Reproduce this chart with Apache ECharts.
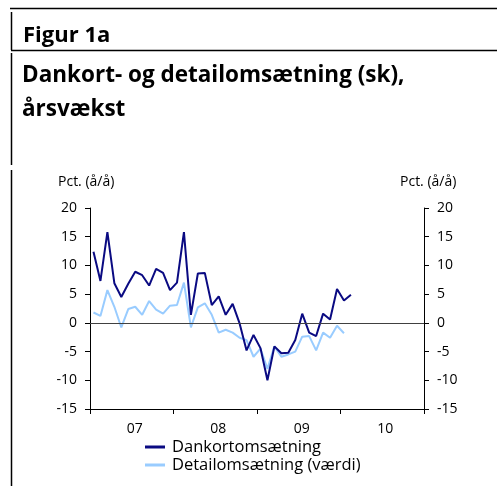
<!DOCTYPE html>
<html>
<head>
<meta charset="utf-8">
<script src="https://cdn.jsdelivr.net/npm/echarts@6/dist/echarts.min.js"></script>
<style>
html, body { margin: 0; padding: 0; background: #fff; }
#chart { width: 497px; height: 486px; }
</style>
</head>
<body>
<div id="chart"></div>
<script>
// månedlig årsvækst, jan 2007 - feb 2010
var years = ['07', '08', '09', '10'];
var dankort = [12.4, 7.3, 15.8, 6.9, 4.5, 6.8, 8.9, 8.3, 6.5, 9.4, 8.7, 5.7,
               7.0, 15.8, 1.4, 8.6, 8.7, 3.1, 4.6, 1.4, 3.3, -0.1, -4.8, -2.1,
               -4.4, -10.0, -4.1, -5.3, -5.2, -3.0, 1.6, -1.7, -2.3, 1.6, 0.6, 5.9,
               3.9, 4.9];
var detail = [1.8, 1.2, 5.7, 2.8, -0.8, 2.4, 2.8, 1.4, 3.8, 2.3, 1.6, 3.0,
              3.1, 7.0, -0.8, 2.7, 3.4, 1.4, -1.7, -1.2, -1.7, -2.6, -3.0, -5.9,
              -4.5, -8.0, -4.1, -5.9, -5.5, -5.0, -2.4, -2.3, -4.8, -1.7, -2.6, -0.5,
              -1.8];
var yTicks = [-15, -10, -5, 0, 5, 10, 15, 20];

function toPoints(arr) {      // maaned nr. i -> midt i maaneden
    var res = [];
    for (var i = 0; i < arr.length; i++) {
        res.push([i + 0.5, arr[i]]);
    }
    return res;
}

var myChart = echarts.init(document.getElementById('chart'));
var font = 'Open Sans';
var yAxisBase = {
    type: 'value',
    min: yTicks[0],
    max: yTicks[yTicks.length - 1],
    interval: 5,
    splitLine: { show: false },
    axisLine: { show: true, lineStyle: { color: '#000', width: 1 } },
    axisTick: { show: true, inside: false, length: 5, lineStyle: { color: '#000' } },
    axisLabel: { color: '#000', fontSize: 14, fontFamily: font, margin: 13 }
};

var option = {
    animation: false,
    textStyle: { fontFamily: font },
    graphic: [
        { type: 'line', shape: { x1: 10, y1: 8.5, x2: 497, y2: 8.5 }, style: { stroke: '#000', lineWidth: 1.5 } },
        { type: 'line', shape: { x1: 11.5, y1: 12, x2: 11.5, y2: 50 }, style: { stroke: '#000', lineWidth: 1.5 } },
        { type: 'line', shape: { x1: 11, y1: 50.5, x2: 497, y2: 50.5 }, style: { stroke: '#000', lineWidth: 1.5 } },
        { type: 'line', shape: { x1: 11.5, y1: 53, x2: 11.5, y2: 165 }, style: { stroke: '#000', lineWidth: 1.5 } },
        { type: 'line', shape: { x1: 11.5, y1: 170, x2: 11.5, y2: 486 }, style: { stroke: '#000', lineWidth: 1.5 } },
        { type: 'text', left: 23, top: 25, style: { text: 'Figur 1a', fontSize: 22, fontWeight: 700, fontFamily: font, fill: '#000' } },
        { type: 'text', left: 22, top: 64, style: { text: 'Dankort- og detailomsætning (sk),', fontSize: 22.5, fontWeight: 700, fontFamily: font, fill: '#000' } },
        { type: 'text', left: 22, top: 98, style: { text: 'årsvækst', fontSize: 22.5, fontWeight: 700, fontFamily: font, fill: '#000' } },
        { type: 'text', left: 58, top: 175, style: { text: 'Pct. (å/å)', fontSize: 14, fontFamily: font, fill: '#000' } },
        { type: 'text', left: 400, top: 175, style: { text: 'Pct. (å/å)', fontSize: 14, fontFamily: font, fill: '#000' } }
    ],
    grid: { left: 90, right: 73, top: 208, bottom: 77 },
    legend: {
        orient: 'vertical',
        left: 145,
        top: 438,
        padding: 0,
        itemWidth: 20,
        itemHeight: 3,
        itemGap: 0,
        icon: 'rect',
        textStyle: { color: '#000', fontSize: 16.5, fontFamily: font, lineHeight: 18, padding: [0, 0, 0, 2] },
        data: ['Dankortomsætning', 'Detailomsætning (værdi)']
    },
    xAxis: [
        {
            type: 'value',
            min: 0,
            max: years.length * 12,
            interval: 12,
            position: 'bottom',
            splitLine: { show: false },
            axisLine: { onZero: false, lineStyle: { color: '#000', width: 1 } },
            axisTick: { length: 5, lineStyle: { color: '#000' } },
            axisLabel: { show: false }
        },
        {
            type: 'category',
            data: years,
            position: 'bottom',
            boundaryGap: true,
            axisLine: { show: false },
            axisTick: { show: false },
            axisLabel: { color: '#000', fontSize: 14, fontFamily: font, margin: 13, padding: [0, 0, 0, 6] }
        }
    ],
    yAxis: [
        echarts.util.merge({ position: 'left' }, yAxisBase, true),
        echarts.util.merge({ position: 'right' }, yAxisBase, true)
    ],
    series: [
        {
            name: 'Dankortomsætning',
            type: 'line',
            xAxisIndex: 0,
            yAxisIndex: 0,
            data: toPoints(dankort),
            showSymbol: false,
            color: '#0a0a82',
            lineStyle: { width: 2 },
            z: 3,
            markLine: {
                silent: true,
                symbol: 'none',
                label: { show: false },
                lineStyle: { color: '#404040', width: 1, type: 'solid' },
                data: [{ yAxis: 0 }]
            }
        },
        {
            name: 'Detailomsætning (værdi)',
            type: 'line',
            xAxisIndex: 0,
            yAxisIndex: 0,
            data: toPoints(detail),
            showSymbol: false,
            color: '#99ccff',
            lineStyle: { width: 2 },
            z: 2
        }
    ]
};
myChart.setOption(option);
</script>
</body>
</html>
